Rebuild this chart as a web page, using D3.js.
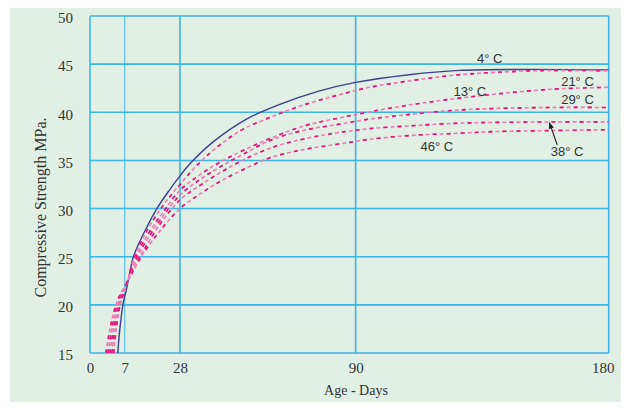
<!DOCTYPE html>
<html><head><meta charset="utf-8">
<script src="https://cdn.jsdelivr.net/npm/d3@7"></script>
<style>
html,body{margin:0;padding:0;background:#fff;}
svg{display:block;}
</style></head>
<body>
<div id="chart"></div>
<script>
// ---- data ----
const xTicks = [0, 7, 28, 90, 180];
const yTicks = [15, 20, 25, 30, 35, 40, 45, 50];

const days4 = [5.6, 6.0, 6.7, 7.5, 8.4, 10.3, 14, 19, 24.2, 28, 32, 40, 51.5, 63, 77, 90, 109, 127, 150, 180];
const str4  = [15, 17.4, 20.2, 21.4, 22.6, 25.0, 27.3, 29.9, 32.0, 33.4, 34.8, 37.0, 39.3, 40.8, 42.2, 43.1, 43.9, 44.35, 44.45, 44.4];

const days13 = [4.8, 5, 6, 7, 8.4, 10, 14, 21, 28, 35, 42, 50, 60, 72, 84, 95, 110, 125, 140, 160, 180];
const str13  = [15, 16.2, 19.8, 21.5, 22.8, 24.4, 27.0, 30.1, 32.5, 34.8, 36.6, 38.2, 39.5, 40.8, 41.8, 42.6, 43.3, 43.85, 44.15, 44.35, 44.3];

const days21 = [4.4, 5, 6, 7, 8.4, 10, 14, 21, 28, 35, 42, 50, 60, 72, 84, 95, 110, 125, 140, 160, 180];
const str21  = [15, 17.4, 20.1, 21.6, 22.7, 24.1, 26.5, 29.4, 31.9, 33.5, 34.8, 36.0, 37.3, 38.6, 39.4, 40.05, 40.8, 41.4, 41.9, 42.4, 42.6];

const days29 = [4.0, 5, 6, 7, 8.4, 10, 14, 21, 28, 35, 42, 50, 60, 72, 84, 95, 110, 125, 140, 160, 180];
const str29  = [15, 18.3, 20.4, 21.7, 22.7, 23.9, 26.1, 29.0, 31.4, 33.0, 34.3, 35.6, 37.1, 38.15, 38.75, 39.3, 39.8, 40.2, 40.4, 40.5, 40.5];

const days38 = [3.6, 4, 5, 6, 7, 8.4, 10, 14, 21, 28, 35, 42, 50, 60, 72, 84, 95, 110, 125, 140, 160, 180];
const str38  = [15, 16.3, 19.0, 20.7, 21.8, 22.6, 23.7, 25.6, 28.6, 30.9, 32.4, 33.7, 35.0, 36.3, 37.25, 37.9, 38.3, 38.6, 38.85, 38.95, 39.0, 39.0];

const days46 = [3.2, 4, 5, 6, 7, 8.4, 10, 14, 21, 28, 35, 42, 50, 60, 72, 84, 95, 110, 125, 140, 160, 180];
const str46  = [15, 17.4, 19.6, 21.0, 21.9, 22.6, 23.4, 25.3, 27.9, 30.0, 31.5, 32.8, 34.0, 35.3, 36.15, 36.7, 37.2, 37.6, 37.8, 38.0, 38.1, 38.2];

const labelText = ["4° C", "13° C", "21° C", "29° C", "38° C", "46° C"];
const labelDay  = [137.7, 130.6, 168.9, 168.9, 165.2, 118.9];
const labelVal  = [45.12, 41.69, 42.78, 40.81, 35.41, 35.93];
const arrowFrom = [161.7, 36.6];
const arrowTo   = [158.9, 38.92];

// ---- layout ----
const W = 633, H = 408;
const L = 90, T = 16, R = 608.7, B = 353;
const xFrac = [0, 0.0669, 0.1735, 0.5122, 1];

const svg = d3.select("#chart").append("svg").attr("width", W).attr("height", H);

svg.append("rect").attr("x", 10).attr("y", 8).attr("width", 611).attr("height", 394)
  .attr("fill", "#e1efe5");

const x = d3.scaleLinear().domain(xTicks).range(xFrac.map(f => L + f * (R - L)));
const y = d3.scaleLinear().domain([15, 50]).range([B, T]);

const gridColor = "#3cb4e6";
svg.append("g").selectAll("line").data(yTicks).join("line")
  .attr("x1", L).attr("x2", R)
  .attr("y1", d => y(d)).attr("y2", d => y(d))
  .attr("stroke", gridColor).attr("stroke-width", 1.6);
svg.append("g").selectAll("line").data(xTicks).join("line")
  .attr("x1", d => x(d)).attr("x2", d => x(d))
  .attr("y1", T).attr("y2", B)
  .attr("stroke", gridColor)
  .attr("stroke-width", d => d === 7 ? 1.3 : 1.6)
  .attr("stroke-opacity", d => d === 7 ? 0.75 : 1);

const yAxis = svg.append("g").attr("transform", `translate(${L},0)`)
  .call(d3.axisLeft(y).tickValues(yTicks).tickSize(0).tickPadding(17));
yAxis.select(".domain").remove();
yAxis.selectAll("text").attr("font-family", "Liberation Serif, Times New Roman, serif")
  .attr("font-size", 15).attr("fill", "#333").attr("dy", "0.45em");

const xAxis = svg.append("g").attr("transform", `translate(0,${B})`)
  .call(d3.axisBottom(x).tickValues(xTicks).tickSize(0).tickPadding(9.5));
xAxis.select(".domain").remove();
xAxis.selectAll("text").attr("font-family", "Liberation Serif, Times New Roman, serif")
  .attr("font-size", 15).attr("fill", "#333")
  .attr("dx", d => d === 180 ? -6 : 0);

svg.append("text").attr("x", 356).attr("y", 395).attr("text-anchor", "middle")
  .attr("font-family", "Liberation Serif, Times New Roman, serif").attr("font-size", 14)
  .attr("fill", "#333").text("Age - Days");
svg.append("text").attr("transform", "translate(46,207.5) rotate(-90)").attr("text-anchor", "middle")
  .attr("font-family", "Liberation Serif, Times New Roman, serif").attr("font-size", 16)
  .attr("fill", "#333").text("Compressive Strength MPa.");

const line = d3.line().x(d => x(d[0])).y(d => y(d[1])).curve(d3.curveCatmullRom.alpha(0.5));
const zip = (a, b) => a.map((d, i) => [d, b[i]]);

svg.append("clipPath").attr("id", "clip").append("rect")
  .attr("x", L).attr("y", T).attr("width", R - L).attr("height", B - T);

const curves = svg.append("g").attr("clip-path", "url(#clip)");
const dashed = [[days46, str46], [days38, str38], [days29, str29], [days21, str21], [days13, str13]];

curves.append("path").datum(zip(days4, str4)).attr("d", line)
  .attr("fill", "none").attr("stroke", "#3d3f8e").attr("stroke-width", 1.4);

dashed.forEach(([d, s]) => {
  curves.append("path").datum(zip(d, s)).attr("d", line)
    .attr("fill", "none").attr("stroke", "#f07ab4").attr("stroke-width", 1.6)
    .attr("stroke-dasharray", "4,3");
  curves.append("path").datum(zip(d, s)).attr("d", line)
    .attr("fill", "none").attr("stroke", "#e5137c").attr("stroke-width", 1.6)
    .attr("stroke-dasharray", "4,10");
});

svg.append("g").selectAll("text").data(labelText).join("text")
  .attr("x", (d, i) => x(labelDay[i])).attr("y", (d, i) => y(labelVal[i]))
  .attr("text-anchor", "middle")
  .attr("font-family", "Liberation Sans, Arial, sans-serif").attr("font-size", 13)
  .attr("fill", "#333").text(d => d);

svg.append("defs").append("marker").attr("id", "arr")
  .attr("viewBox", "0 0 10 10").attr("refX", 9).attr("refY", 5)
  .attr("markerWidth", 6).attr("markerHeight", 6).attr("orient", "auto")
  .append("path").attr("d", "M0,1 L10,5 L0,9 Z").attr("fill", "#222");
svg.append("line")
  .attr("x1", x(arrowFrom[0])).attr("y1", y(arrowFrom[1]))
  .attr("x2", x(arrowTo[0])).attr("y2", y(arrowTo[1]))
  .attr("stroke", "#222").attr("stroke-width", 1.1).attr("marker-end", "url(#arr)");
</script>
</body></html>
